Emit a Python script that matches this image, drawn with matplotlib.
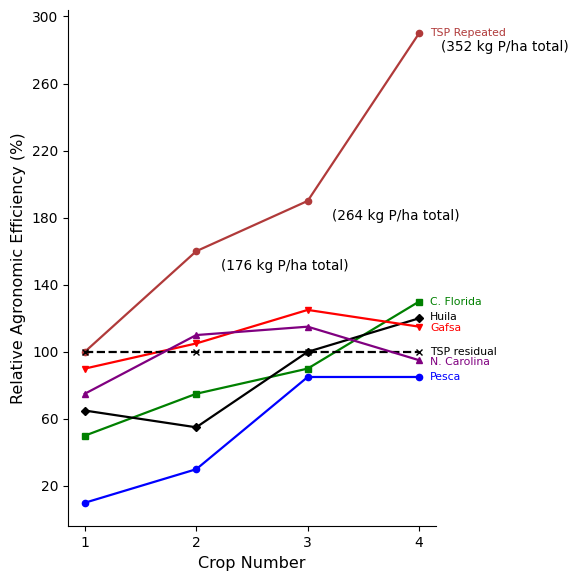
import matplotlib.pyplot as plt

crops = [1, 2, 3, 4]
tsp_repeated = [100, 160, 190, 290]
c_florida = [50, 75, 90, 130]
huila = [65, 55, 100, 120]
gafsa = [90, 105, 125, 115]
tsp_residual = [100, 100, 100, 100]
n_carolina = [75, 110, 115, 95]
pesca = [10, 30, 85, 85]

totals = ['(176 kg P/ha total)', '(264 kg P/ha total)', '(352 kg P/ha total)']
total_pos = [(2.22, 151), (3.22, 181), (4.2, 282)]

fig = plt.figure(figsize=(5.72, 5.72), dpi=100)
ax = fig.add_axes([0.119, 0.08, 0.643, 0.903])

series = [
    (tsp_repeated, 'TSP Repeated', '#b03a3a', 'o', '-', 290),
    (c_florida, 'C. Florida', 'green', 's', '-', 130),
    (huila, 'Huila', 'black', 'D', '-', 121),
    (gafsa, 'Gafsa', 'red', 'v', '-', 114),
    (tsp_residual, 'TSP residual', 'black', 'x', '--', 100),
    (n_carolina, 'N. Carolina', 'purple', '^', '-', 94),
    (pesca, 'Pesca', 'blue', 'o', '-', 85),
]
for vals, name, col, mk, ls, ly in series:
    ax.plot(crops, vals, color=col, marker=mk, linestyle=ls, markersize=4.5, linewidth=1.6)
    ax.text(4.1, ly, name, color=col, fontsize=7.8, va='center')

for t, (tx, ty) in zip(totals, total_pos):
    ax.text(tx, ty, t, fontsize=9.8, va='center')

ax.set_xticks(crops)
ax.set_yticks(range(20, 301, 40))
ax.set_xlabel('Crop Number', fontsize=11.5)
ax.set_ylabel('Relative Agronomic Efficiency (%)', fontsize=11.5)
ax.spines['top'].set_visible(False)
ax.spines['right'].set_visible(False)

fig.savefig('out.png')
